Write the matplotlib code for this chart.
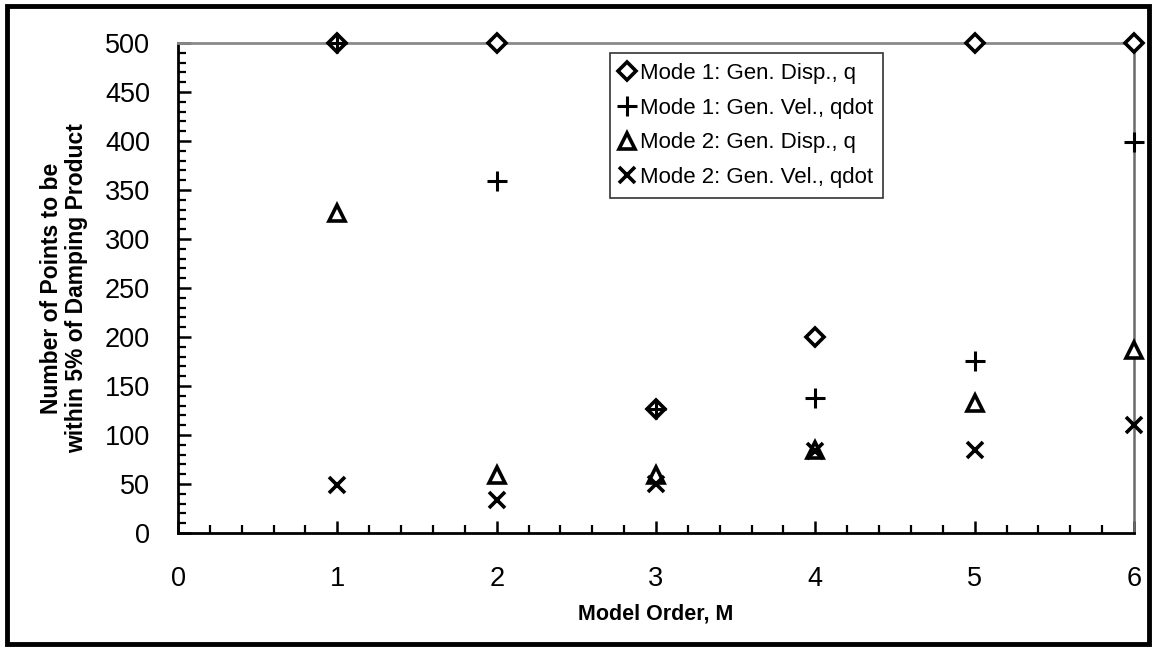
import matplotlib
matplotlib.use("Agg")
import matplotlib.pyplot as plt
from matplotlib.ticker import MultipleLocator
from matplotlib.patches import Rectangle

plt.rcParams['font.family'] = ['Liberation Sans', 'DejaVu Sans']

# Model order and point counts for each mode / quantity
model_order = [1, 2, 3, 4, 5, 6]
m1_disp = [500, 500, 127, 200, 500, 500]
m1_vel = [500, 359, 127, 138, 176, 399]
m2_disp = [327, 59, 59, 85, 133, 187]
m2_vel = [49, 34, 50, 84, 85, 110]

series_labels = ['Mode 1: Gen. Disp., q', 'Mode 1: Gen. Vel., qdot',
                 'Mode 2: Gen. Disp., q', 'Mode 2: Gen. Vel., qdot']

fig = plt.figure(figsize=(11.56, 6.48), dpi=100)
ax = fig.add_axes([0.154, 0.1775, 0.827, 0.756])

ax.plot(model_order, m1_disp, linestyle='none', marker='D', markersize=9,
        markerfacecolor='white', markeredgecolor='black', markeredgewidth=2.6,
        label=series_labels[0], clip_on=False, zorder=5)
ax.plot(model_order, m1_vel, linestyle='none', marker='+', markersize=15,
        color='black', markeredgewidth=2.2, label=series_labels[1],
        clip_on=False, zorder=5)
ax.plot(model_order, m2_disp, linestyle='none', marker='^', markersize=11,
        markerfacecolor='white', markeredgecolor='black', markeredgewidth=2.6,
        label=series_labels[2], clip_on=False, zorder=5)
ax.plot(model_order, m2_vel, linestyle='none', marker='x', markersize=12,
        color='black', markeredgewidth=2.6, label=series_labels[3],
        clip_on=False, zorder=5)

ax.set_xlim(0, 6)
ax.set_ylim(0, 500)

# Axis frame: dark left/bottom, grey top/right
ax.spines['left'].set_color('black')
ax.spines['bottom'].set_color('black')
ax.spines['left'].set_linewidth(2)
ax.spines['bottom'].set_linewidth(2)
ax.spines['top'].set_color('#8a8a8a')
ax.spines['right'].set_color('#6a6a6a')
ax.spines['top'].set_linewidth(2)
ax.spines['right'].set_linewidth(1.8)

ax.xaxis.set_major_locator(MultipleLocator(1))
ax.xaxis.set_minor_locator(MultipleLocator(0.2))
ax.yaxis.set_major_locator(MultipleLocator(50))
ax.yaxis.set_minor_locator(MultipleLocator(10))

ax.tick_params(axis='both', which='both', direction='in', color='black',
               top=False, right=False)
ax.tick_params(axis='both', which='major', length=9, width=1.8)
ax.tick_params(axis='both', which='minor', length=6, width=1.6)
ax.tick_params(axis='y', which='major', labelsize=19.5, pad=20)
ax.tick_params(axis='x', which='major', labelsize=19.5, pad=24)

ax.set_xlabel('Model Order, M', fontsize=15.5, fontweight='bold', labelpad=8)
ax.set_ylabel('Number of Points to be\nwithin 5% of Damping Product',
              fontsize=16.5, fontweight='bold', labelpad=12, linespacing=1.15)

leg = ax.legend(loc='upper left', bbox_to_anchor=(0.452, 0.98),
                fontsize=16, frameon=True, fancybox=False, shadow=False,
                handlelength=0.6, handletextpad=0.3, borderpad=0.45,
                labelspacing=0.62, borderaxespad=0)
leg.get_frame().set_edgecolor('black')
leg.get_frame().set_linewidth(1.2)
leg.set_zorder(10)

# Outer frame around the whole chart
fig.patches.append(Rectangle((0.006, 0.006), 0.988, 0.985,
                             transform=fig.transFigure, fill=False,
                             edgecolor='black', linewidth=3.5))

fig.savefig('out.png', dpi=100)
